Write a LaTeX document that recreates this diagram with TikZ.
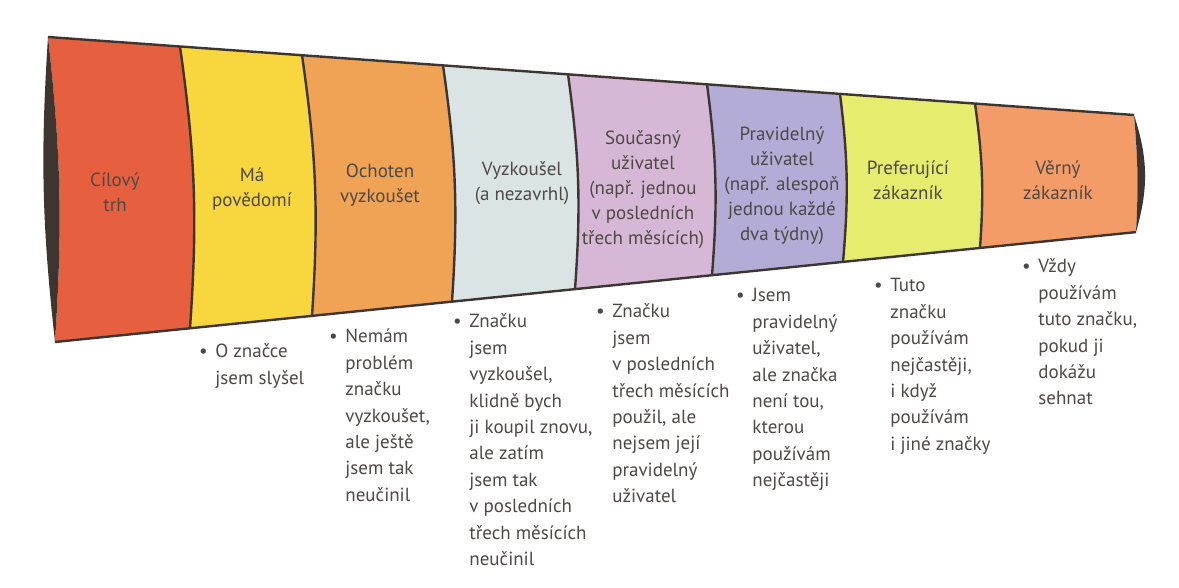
\documentclass[tikz,border=0pt]{standalone}
\usepackage{fontspec}
\setmainfont{PT Sans}
\usetikzlibrary{positioning}
\definecolor{rim}{HTML}{3E3530}
\definecolor{inkgrey}{HTML}{4E4946}
\definecolor{cilred}{HTML}{E6603F}
\definecolor{povyel}{HTML}{F7D63E}
\definecolor{ochor}{HTML}{F0A355}
\definecolor{vyzgrey}{HTML}{DAE4E4}
\definecolor{soulil}{HTML}{D7B7D6}
\definecolor{pravpur}{HTML}{B2ACD6}
\definecolor{prefgrn}{HTML}{E6EC6E}
\definecolor{vernor}{HTML}{F39C68}

\begin{document}
\begin{tikzpicture}[x=0.5pt, y=-0.5pt,
  rimline/.style={draw=rim, line width=1.2pt},
  band/.style={font=\fontsize{9.5}{12.5}\selectfont, text=inkgrey, align=center},
  item/.style={font=\fontsize{9.5}{13.2}\selectfont, text=inkgrey, align=left, anchor=north west, inner sep=0pt},
  dot/.style={font=\fontsize{9.5}{13.2}\selectfont, text=inkgrey, anchor=north east, inner sep=0pt, xshift=-3.5pt}
]
\useasboundingbox[fill=white] (0,0) rectangle (1179,588);

% points on the upper and lower rim of the cone
\coordinate (t0) at (48,37);     \coordinate (u0) at (55,342);
\coordinate (t1) at (180,46.5);  \coordinate (u1) at (190,328.3);
\coordinate (t2) at (302,55.2);  \coordinate (u2) at (312,315.9);
\coordinate (t3) at (443,65.4);  \coordinate (u3) at (452,301.6);
\coordinate (t4) at (568,74.3);  \coordinate (u4) at (575,289.1);
\coordinate (t5) at (707,84.3);  \coordinate (u5) at (712,275.2);
\coordinate (t6) at (840,93.9);  \coordinate (u6) at (843,261.9);
\coordinate (t7) at (975,103.6); \coordinate (u7) at (980,247.9);
\coordinate (t8) at (1134,115);  \coordinate (u8) at (1136,232.1);

% coloured bands
\fill[cilred]  (t0) to[bend left=5] (u0) -- (u1) to[bend right=6] (t1) -- cycle;
\fill[povyel]  (t1) to[bend left=6] (u1) -- (u2) to[bend right=6] (t2) -- cycle;
\fill[ochor]   (t2) to[bend left=6] (u2) -- (u3) to[bend right=6] (t3) -- cycle;
\fill[vyzgrey] (t3) to[bend left=6] (u3) -- (u4) to[bend right=6] (t4) -- cycle;
\fill[soulil]  (t4) to[bend left=6] (u4) -- (u5) to[bend right=6] (t5) -- cycle;
\fill[pravpur] (t5) to[bend left=6] (u5) -- (u6) to[bend right=6] (t6) -- cycle;
\fill[prefgrn] (t6) to[bend left=6] (u6) -- (u7) to[bend right=6] (t7) -- cycle;
\fill[vernor]  (t7) to[bend left=6] (u7) -- (u8) to[bend right=4] (t8) -- cycle;

% rims, seams and the two dark end caps
\fill[rim] (t0) to[bend left=5] (u0) to[bend left=5] (t0);
\fill[rim] (t8) to[bend left=4] (u8) to[bend right=17] (t8);
\draw[rimline] (t0) -- (t8);
\draw[rimline] (u0) -- (u8);
\draw[rimline] (t1) to[bend left=6] (u1);
\draw[rimline] (t2) to[bend left=6] (u2);
\draw[rimline] (t3) to[bend left=6] (u3);
\draw[rimline] (t4) to[bend left=6] (u4);
\draw[rimline] (t5) to[bend left=6] (u5);
\draw[rimline] (t6) to[bend left=6] (u6);
\draw[rimline] (t7) to[bend left=6] (u7);

% band titles
\node[band] (trh)   at (115,192) {Cílový\\trh};
\node[band] (pov)   at (252,189) {Má\\povědomí};
\node[band] (ocho)  at (380,185) {Ochoten\\vyzkoušet};
\node[band] (vyzk)  at (522,183) {Vyzkoušel\\(a nezavrhl)};
\node[band] (souc)  at (643,190) {Současný\\uživatel\\(např. jednou\\v posledních\\třech měsících)};
\node[band] (prav)  at (782,186) {Pravidelný\\uživatel\\(např. alespoň\\jednou každé\\dva týdny)};
\node[band] (pref)  at (908,180) {Preferující\\zákazník};
\node[band] (verny) at (1058,180) {Věrný\\zákazník};

% statements under the cone
\node[item, label={[dot]north west:\strut\textbullet}] (slysel) at (215,339)
  {\strut O značce\\jsem slyšel};
\node[item, label={[dot]north west:\strut\textbullet}] (nemam) at (345,324)
  {\strut Nemám\\problém\\značku\\vyzkoušet,\\ale ještě\\jsem tak\\neučinil};
\node[item, label={[dot]north west:\strut\textbullet}] (koupil) at (469,309)
  {\strut Značku\\jsem\\vyzkoušel,\\klidně bych\\ji koupil znovu,\\ale zatím\\jsem tak\\v posledních\\třech měsících\\neučinil};
\node[item, label={[dot]north west:\strut\textbullet}] (pouzil) at (612,299)
  {\strut Značku\\jsem\\v posledních\\třech měsících\\použil, ale\\nejsem její\\pravidelný\\uživatel};
\node[item, label={[dot]north west:\strut\textbullet}] (jsem) at (752,283)
  {\strut Jsem\\pravidelný\\uživatel,\\ale značka\\není tou,\\kterou\\používám\\nejčastěji};
\node[item, label={[dot]north west:\strut\textbullet}] (tuto) at (890,273)
  {\strut Tuto\\značku\\používám\\nejčastěji,\\i když\\používám\\i jiné značky};
\node[item, label={[dot]north west:\strut\textbullet}] (vzdy) at (1038,254)
  {\strut Vždy\\používám\\tuto značku,\\pokud ji\\dokážu\\sehnat};
\end{tikzpicture}
\end{document}
